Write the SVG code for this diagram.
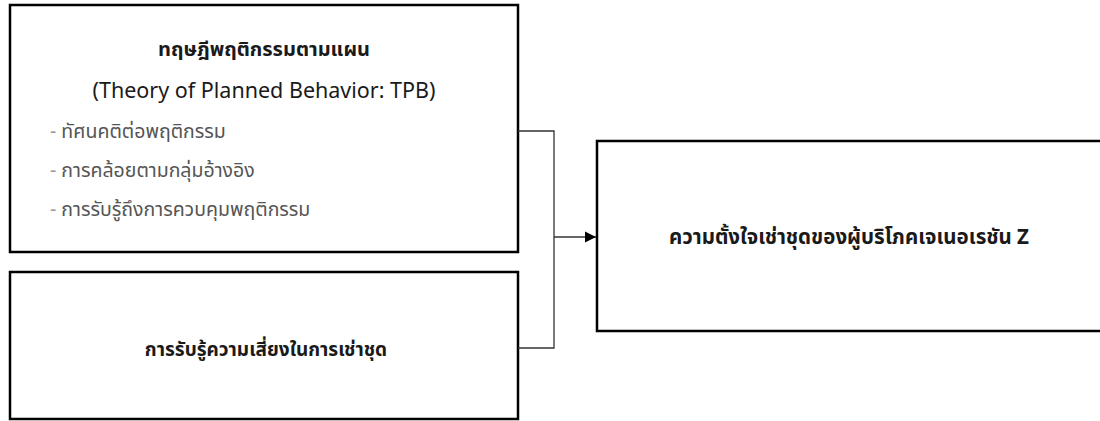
<svg xmlns="http://www.w3.org/2000/svg" width="1100" height="421" viewBox="0 0 1100 421">
<defs>
<style>
.box{fill:#fff;stroke:#000;stroke-width:2.5}
.conn{fill:none;stroke:#333;stroke-width:1.3}
text{font-family:"Noto Sans Thai","Tahoma","Noto Sans","DejaVu Sans",sans-serif;fill:#1a1a1a}
.b{font-weight:bold}
.title{font-size:20px}
.sub{font-size:21.5px}
.bul{font-size:19.5px;fill:#555}
.dash{fill:#999}
.r{font-size:19px}
.main{font-size:20.5px}
</style>
<marker id="arr" markerWidth="12" markerHeight="12" refX="11" refY="6" orient="auto" markerUnits="userSpaceOnUse">
<path d="M0,0.5 L11,6 L0,11.5 Z" fill="#000"/>
</marker>
</defs>
<rect width="1100" height="421" fill="#fff"/>
<g id="node-tpb">
<rect class="box" x="10" y="5" width="508" height="247"/>
<text class="title b" x="264" y="56" text-anchor="middle">ทฤษฎีพฤติกรรมตามแผน</text>
<text class="sub" x="264" y="98" text-anchor="middle">(Theory of Planned Behavior: TPB)</text>
<text class="bul" x="50" y="138"><tspan class="dash">- </tspan>ทัศนคติต่อพฤติกรรม</text>
<text class="bul" x="50" y="177"><tspan class="dash">- </tspan>การคล้อยตามกลุ่มอ้างอิง</text>
<text class="bul" x="50" y="216"><tspan class="dash">- </tspan>การรับรู้ถึงการควบคุมพฤติกรรม</text>
</g>
<g id="node-risk">
<rect class="box" x="10" y="272" width="508" height="147"/>
<text class="r b" x="266" y="356" text-anchor="middle">การรับรู้ความเสี่ยงในการเช่าชุด</text>
</g>
<g id="node-intention">
<rect class="box" x="597" y="141" width="510" height="190"/>
<text class="main b" x="849" y="244" text-anchor="middle">ความตั้งใจเช่าชุดของผู้บริโภคเจเนอเรชัน Z</text>
</g>
<g id="connectors">
<path class="conn" d="M518,131 H554 V348 H518"/>
<path class="conn" d="M554,237 H596" marker-end="url(#arr)"/>
</g>
</svg>
